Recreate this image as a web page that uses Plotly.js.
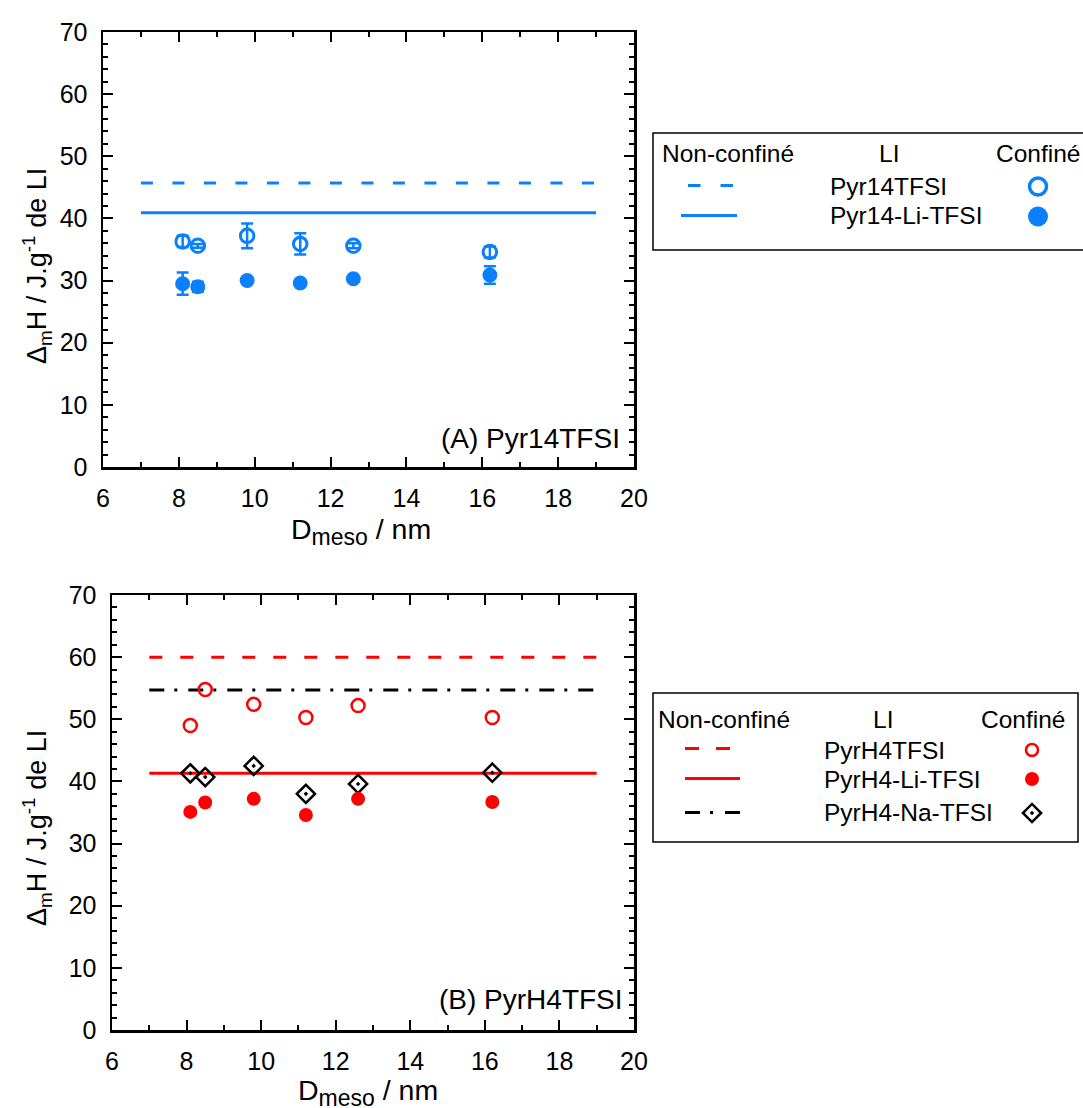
<!DOCTYPE html>
<html>
<head>
<meta charset="utf-8">
<script src="https://cdn.plot.ly/plotly-3.0.1.min.js"></script>
<style>html,body{margin:0;padding:0;background:#fff;}#chart{width:1083px;height:1108px;}</style>
</head>
<body>
<div id="chart"></div>
<script>
// ---------- DATA ----------
const dMeso = [8.1, 8.5, 9.8, 11.2, 12.6, 16.2];
const bulkRange = [7, 19];

// Panel A : Pyr14TFSI
const pyr14Conf = [36.3, 35.6, 37.2, 35.9, 35.6, 34.6];
const pyr14ConfErr = [0.9, 0.3, 2.0, 1.7, 0.4, 0.9];
const pyr14LiConf = [29.5, 29.0, 30.0, 29.6, 30.3, 30.9];
const pyr14LiConfErr = [1.8, 0.8, 0, 0, 0, 1.4];
const pyr14Bulk = 45.7;
const pyr14LiBulk = 40.9;

// Panel B : PyrH4TFSI
const pyrH4Conf = [49.0, 54.8, 52.4, 50.3, 52.2, 50.3];
const pyrH4LiConf = [35.1, 36.6, 37.2, 34.6, 37.2, 36.7];
const pyrH4NaConf = [41.3, 40.7, 42.5, 38.0, 39.6, 41.4];
const pyrH4Bulk = 60.0;
const pyrH4LiBulk = 41.3;
const pyrH4NaBulk = 54.7;

const namesA = ['Pyr14TFSI', 'Pyr14-Li-TFSI'];
const namesB = ['PyrH4TFSI', 'PyrH4-Li-TFSI', 'PyrH4-Na-TFSI'];
const xTicks = [6, 8, 10, 12, 14, 16, 18, 20];
const yTicks = [0, 10, 20, 30, 40, 50, 60, 70];

// ---------- STYLE / LAYOUT ----------
const W = 1083, H = 1108;
const px = x => x / W;
const py = y => 1 - y / H;
const BLUE = '#0a80ff', RED = '#ff0000', BLACK = '#000000';
const FONT = 'Liberation Sans, Arial, sans-serif';
const FS = 25;     // tick labels
const LFS = 24.5;  // legend text
const TFS = 28.5;  // titles / panel labels

function hline(v, color, dash, xa, ya) {
  return {x: bulkRange, y: [v, v], xaxis: xa, yaxis: ya, mode: 'lines',
    line: {color: color, width: 3, dash: dash}, hoverinfo: 'skip', showlegend: false};
}
function pts(y, err, color, symbol, size, lw, xa, ya) {
  const t = {x: dMeso, y: y, xaxis: xa, yaxis: ya, mode: 'markers', showlegend: false,
    marker: {color: color, symbol: symbol, size: size, line: {color: color, width: lw}}};
  if (err) t.error_y = {type: 'data', array: err, visible: true, color: color, thickness: 2.5, width: 6};
  return t;
}

const traces = [
  hline(pyr14Bulk, BLUE, '12px,19.5px', 'x', 'y'),
  hline(pyr14LiBulk, BLUE, 'solid', 'x', 'y'),
  pts(pyr14Conf, pyr14ConfErr, BLUE, 'circle-open', 13.5, 3, 'x', 'y'),
  pts(pyr14LiConf, pyr14LiConfErr, BLUE, 'circle', 15, 0, 'x', 'y'),

  hline(pyrH4Bulk, RED, '13px,18px', 'x2', 'y2'),
  hline(pyrH4NaBulk, BLACK, '15px,10px,3px,11px', 'x2', 'y2'),
  hline(pyrH4LiBulk, RED, 'solid', 'x2', 'y2'),
  pts(pyrH4Conf, null, RED, 'circle-open', 13, 2.5, 'x2', 'y2'),
  pts(pyrH4NaConf, null, BLACK, 'diamond-open-dot', 14, 2.5, 'x2', 'y2'),
  pts(pyrH4LiConf, null, RED, 'circle', 14, 0, 'x2', 'y2')
];

// legend glyph markers on a full-page overlay axis (pixel units)
function glyph(xp, yp, color, symbol, size, lw) {
  return {x: [xp], y: [yp], xaxis: 'x3', yaxis: 'y3', mode: 'markers', showlegend: false,
    hoverinfo: 'skip', marker: {color: color, symbol: symbol, size: size, line: {color: color, width: lw}}};
}
traces.push(glyph(1038, 186.5, BLUE, 'circle-open', 17, 3.5));
traces.push(glyph(1038, 216.5, BLUE, 'circle', 20, 0));
traces.push(glyph(1032, 750, RED, 'circle-open', 12, 2.5));
traces.push(glyph(1032, 779, RED, 'circle', 14, 0));
traces.push(glyph(1032, 813, BLACK, 'diamond-open-dot', 14, 2.5));

function xax(dom, anchor) {
  return {domain: dom, anchor: anchor, range: [6, 20], tickvals: xTicks, ticktext: xTicks.map(String),
    ticks: 'inside', ticklen: 10, tickwidth: 2, tickcolor: '#000',
    minor: {dtick: 1, tick0: 6, ticks: 'inside', ticklen: 5, tickwidth: 2, tickcolor: '#000'},
    showline: true, linewidth: 2.5, linecolor: '#000', mirror: 'ticks',
    showgrid: false, zeroline: false, ticklabelstandoff: 7,
    tickfont: {family: FONT, size: FS, color: '#000'}, fixedrange: true};
}
function yax(dom, anchor) {
  return {domain: dom, anchor: anchor, range: [0, 70], tickvals: yTicks, ticktext: yTicks.map(String),
    ticks: 'inside', ticklen: 10, tickwidth: 2, tickcolor: '#000',
    minor: {dtick: 2, tick0: 0, ticks: 'inside', ticklen: 5, tickwidth: 2, tickcolor: '#000'},
    showline: true, linewidth: 2.5, linecolor: '#000', mirror: 'ticks',
    showgrid: false, zeroline: false, ticklabelstandoff: 8,
    tickfont: {family: FONT, size: FS, color: '#000'}, fixedrange: true};
}

const txt = (t, x, y, size, opts) => Object.assign({text: t, x: px(x), y: py(y), xref: 'paper', yref: 'paper',
  showarrow: false, font: {family: FONT, size: size, color: '#000'}, xanchor: 'center', yanchor: 'middle'}, opts || {});

const yTitle = 'Δ<sub>m</sub>H / J.g<sup>-1</sup> de LI';
const xTitle = 'D<sub><span style="font-size:23px">meso</span></sub> / nm';

const annotations = [
  txt(yTitle, 37, 266, 27, {textangle: -90}),
  txt(xTitle, 361, 532, TFS),
  txt('(A) Pyr14TFSI', 622, 438, TFS - 0.5, {xanchor: 'right'}),
  txt(yTitle, 37, 828, 27, {textangle: -90}),
  txt(xTitle, 368, 1092, TFS),
  txt('(B) PyrH4TFSI', 625, 1000, TFS - 0.5, {xanchor: 'right'}),
  // legend A
  txt('Non-confiné', 728, 154, LFS),
  txt('LI', 889, 154, LFS),
  txt('Confiné', 1038, 154, LFS),
  txt(namesA[0], 828, 186.5, LFS, {xanchor: 'left'}),
  txt(namesA[1], 828, 215.5, LFS, {xanchor: 'left'}),
  // legend B
  txt('Non-confiné', 724, 719, LFS),
  txt('LI', 883, 719, LFS),
  txt('Confiné', 1023, 719, LFS),
  txt(namesB[0], 822, 750, LFS, {xanchor: 'left'}),
  txt(namesB[1], 822, 779, LFS, {xanchor: 'left'}),
  txt(namesB[2], 822, 812.5, LFS, {xanchor: 'left'})
];

const lineShape = (x0, x1, y, color, dash) => ({type: 'line', xref: 'paper', yref: 'paper',
  x0: px(x0), x1: px(x1), y0: py(y), y1: py(y), line: {color: color, width: 3, dash: dash}});

const shapes = [
  {type: 'rect', xref: 'paper', yref: 'paper', x0: px(653), x1: px(1090), y0: py(250), y1: py(133),
    line: {color: '#000', width: 1.5}, fillcolor: 'rgba(0,0,0,0)'},
  {type: 'rect', xref: 'paper', yref: 'paper', x0: px(653), x1: px(1078), y0: py(842), y1: py(693),
    line: {color: '#000', width: 1.5}, fillcolor: 'rgba(0,0,0,0)'},
  lineShape(688, 733, 185.5, BLUE, '12.5px,20px'),
  lineShape(681, 737, 215.5, BLUE, 'solid'),
  lineShape(685, 730, 748.5, RED, '14px,17px'),
  lineShape(685, 740, 778.5, RED, 'solid'),
  lineShape(685, 740, 812.5, BLACK, '15px,10px,3px,12px')
];

const layout = {
  width: W, height: H, margin: {l: 0, r: 0, t: 0, b: 0},
  paper_bgcolor: '#fff', plot_bgcolor: 'rgba(0,0,0,0)', showlegend: false,
  font: {family: FONT, size: FS, color: '#000'},
  xaxis: xax([px(103), px(634)], 'y'),
  yaxis: yax([py(467), py(32)], 'x'),
  xaxis2: xax([px(112), px(634)], 'y2'),
  yaxis2: yax([py(1030), py(595)], 'x2'),
  xaxis3: {domain: [0, 1], range: [0, W], visible: false, anchor: 'y3', fixedrange: true},
  yaxis3: {domain: [0, 1], range: [H, 0], visible: false, anchor: 'x3', fixedrange: true},
  annotations: annotations,
  shapes: shapes
};

Plotly.newPlot('chart', traces, layout, {staticPlot: true, displayModeBar: false});
</script>
</body>
</html>
